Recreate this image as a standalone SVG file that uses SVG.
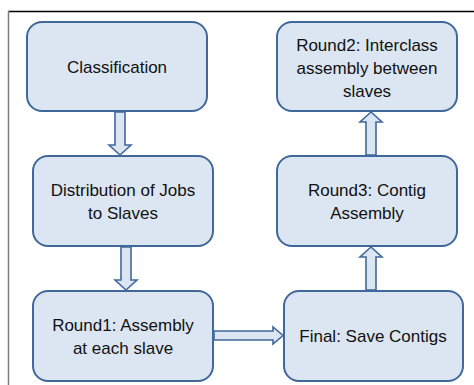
<svg xmlns="http://www.w3.org/2000/svg" width="474" height="385" viewBox="0 0 474 385">
  <style>
    .box { fill: #dce6f2; stroke: #41689a; stroke-width: 2; }
    .arrow { fill: #dce6f2; stroke: #41689a; stroke-width: 1.6; stroke-linejoin: miter; }
    .label { font-family: "Liberation Sans", Arial, sans-serif; font-size: 17px; fill: #111; text-anchor: middle; }
  </style>
  <rect x="0" y="0" width="474" height="385" fill="#ffffff"/>
  <!-- frame -->
  <line x1="8" y1="11.5" x2="474" y2="11.5" stroke="#000" stroke-width="1.5"/>
  <line x1="8.5" y1="11" x2="8.5" y2="385" stroke="#808080" stroke-width="1.5"/>

  <g id="connectors">
    <!-- Classification -> Distribution -->
    <path class="arrow" d="M115,112 L125,112 L125,145 L131,145 L120,155 L109,145 L115,145 Z"/>
    <!-- Distribution -> Round1 -->
    <path class="arrow" d="M121,247 L131,247 L131,280 L137,280 L126,290 L115,280 L121,280 Z"/>
    <!-- Round1 -> Final -->
    <path class="arrow" d="M214,331 L273,331 L273,327 L283,335.5 L273,344 L273,340 L214,340 Z"/>
    <!-- Final -> Round3 -->
    <path class="arrow" d="M366,290 L376,290 L376,257 L382,257 L371,247 L360,257 L366,257 Z"/>
    <!-- Round3 -> Round2 -->
    <path class="arrow" d="M366,155 L376,155 L376,122 L382,122 L371,112 L360,122 L366,122 Z"/>
  </g>

  <g id="classification">
    <rect class="box" x="27" y="22" width="180" height="89" rx="15"/>
    <text class="label" x="117" y="73">Classification</text>
  </g>
  <g id="distribution">
    <rect class="box" x="33" y="156" width="180" height="90" rx="15"/>
    <text class="label" x="123" y="196">Distribution of Jobs</text>
    <text class="label" x="123" y="219">to Slaves</text>
  </g>
  <g id="round1">
    <rect class="box" x="33" y="291" width="180" height="90" rx="15"/>
    <text class="label" x="123" y="331">Round1: Assembly</text>
    <text class="label" x="123" y="354">at each slave</text>
  </g>
  <g id="final">
    <rect class="box" x="284" y="291" width="179" height="90" rx="15"/>
    <text class="label" x="373" y="342">Final: Save Contigs</text>
  </g>
  <g id="round3">
    <rect class="box" x="277" y="156" width="180" height="90" rx="15"/>
    <text class="label" x="367" y="196">Round3: Contig</text>
    <text class="label" x="367" y="219">Assembly</text>
  </g>
  <g id="round2">
    <rect class="box" x="277" y="22" width="180" height="89" rx="15"/>
    <text class="label" x="367" y="51">Round2: Interclass</text>
    <text class="label" x="367" y="74">assembly between</text>
    <text class="label" x="367" y="97">slaves</text>
  </g>
</svg>
